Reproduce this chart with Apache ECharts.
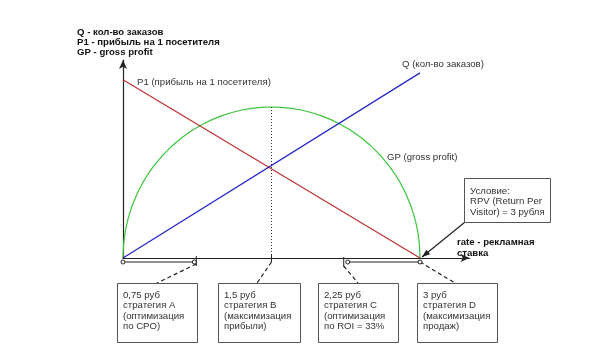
<!DOCTYPE html>
<html><head><meta charset="utf-8">
<script src="https://cdn.jsdelivr.net/npm/echarts@6/dist/echarts.min.js"></script>
<style>html,body{margin:0;padding:0;background:#fff}#c{width:600px;height:360px}</style>
</head><body><div id="c"></div>
<script>
// ---- data ----
const p1Rate = [0, 3];
const p1Values = [1.80, 0];
const qRate = [0, 3];
const qValues = [0, 1.87];
const gpRate = [0, 0.005, 0.01, 0.02, 0.035, 0.05, 0.075, 0.1, 0.15, 0.2, 0.25, 0.3, 0.4, 0.5, 0.6, 0.7, 0.8, 0.9, 1.0, 1.1, 1.2, 1.3, 1.4, 1.5,
  1.6, 1.7, 1.8, 1.9, 2.0, 2.1, 2.2, 2.3, 2.4, 2.5, 2.6, 2.7, 2.75, 2.8, 2.85, 2.9, 2.925, 2.95, 2.965, 2.98, 2.99, 2.995, 3];
const gpValues = [0, 0.124, 0.176, 0.248, 0.328, 0.39, 0.476, 0.548, 0.665, 0.761, 0.843, 0.915, 1.037, 1.137, 1.22, 1.29, 1.349, 1.398, 1.438, 1.47, 1.495, 1.512, 1.522, 1.525,
  1.522, 1.512, 1.495, 1.47, 1.438, 1.398, 1.349, 1.29, 1.22, 1.137, 1.037, 0.915, 0.843, 0.761, 0.665, 0.548, 0.476, 0.39, 0.328, 0.248, 0.176, 0.124, 0];
const optimumRate = [1.5, 1.5];
const optimumValues = [0, 1.525];
const intervalA = [0, 0.72];
const intervalC = [2.27, 3];
const strategyRates = [0.72, 1.5, 2.27, 3];
const strategyTexts = [
  '0,75 руб\nстратегия А\n(оптимизация\nпо CPO)',
  '1,5 руб\nстратегия В\n(максимизация\nприбыли)',
  '2,25 руб\nстратегия С\n(оптимизация\nпо ROI = 33%',
  '3 руб\nстратегия D\n(максимизация\nпродаж)'
];
const legendText = 'Q - кол-во заказов\nP1 - прибыль на 1 посетителя\nGP - gross profit';
const conditionText = 'Условие:\nRPV (Return Per\nVisitor) = 3 рубля';
const xAxisName = 'rate - рекламная\nставка';
const labelP1 = 'P1 (прибыль на 1 посетителя)';
const labelQ = 'Q (кол-во заказов)';
const labelGP = 'GP (gross profit)';

const FONT = '"Liberation Sans", Arial, sans-serif';
const zip = (a, b) => a.map((v, i) => [v, b[i]]);

const chart = echarts.init(document.getElementById('c'), null, {renderer: 'canvas'});
const option = {
  animation: false,
  backgroundColor: '#fff',
  grid: {left: 123, top: 60, width: 346.5, height: 198},
  xAxis: {type: 'value', min: 0, max: 3.5,
    axisLine: {show: true, lineStyle: {color: '#222', width: 1.2}, symbol: ['none', 'arrow'], symbolSize: [6, 9]},
    axisTick: {show: false}, axisLabel: {show: false}, splitLine: {show: false}},
  yAxis: {type: 'value', min: 0, max: 2,
    axisLine: {show: true, lineStyle: {color: '#222', width: 1.2}, symbol: ['none', 'arrow'], symbolSize: [6, 9]},
    axisTick: {show: false}, axisLabel: {show: false}, splitLine: {show: false}},
  series: [
    {type: 'line', data: zip(gpRate, gpValues), smooth: false, showSymbol: false, lineStyle: {color: '#3cc43c', width: 1.2}},
    {type: 'line', data: zip(p1Rate, p1Values), showSymbol: false, lineStyle: {color: '#c03030', width: 1.2}},
    {type: 'line', data: zip(qRate, qValues), showSymbol: false, lineStyle: {color: '#2525c8', width: 1.2}},
    {type: 'line', data: zip(optimumRate, optimumValues), showSymbol: false, lineStyle: {color: '#333', width: 1, type: [1, 2]}}
  ]
};
chart.setOption(option);

const px = (x, y) => chart.convertToPixel({gridIndex: 0}, [x, y]);
const y0 = px(0, 0)[1];
const segY = y0 + 4;
const g = [];
function line(x1, y1, x2, y2, style) {
  g.push({type: 'line', shape: {x1, y1, x2, y2}, style: Object.assign({stroke: '#222', lineWidth: 1}, style || {}), z: 10});
}
function circ(cx, cy) {
  g.push({type: 'circle', shape: {cx, cy, r: 2}, style: {fill: '#fff', stroke: '#222', lineWidth: 1}, z: 11});
}
function text(x, y, t, style) {
  g.push({type: 'text', x, y, style: Object.assign({text: t, fill: '#333', font: '9.6px ' + FONT, lineHeight: 10.5, verticalAlign: 'top'}, style || {}), z: 12});
}
// intervals below axis
[intervalA, intervalC].forEach(iv => {
  const a = px(iv[0], 0)[0], b = px(iv[1], 0)[0];
  line(a, segY, b, segY);
  circ(a, segY); circ(b, segY);
});
// ticks
line(px(strategyRates[0], 0)[0] + 2, y0 - 2, px(strategyRates[0], 0)[0] + 2, y0 + 8);
line(px(strategyRates[1], 0)[0], y0 - 4, px(strategyRates[1], 0)[0], y0 + 4);
line(px(strategyRates[2], 0)[0] - 4, y0 - 1, px(strategyRates[2], 0)[0] - 4, y0 + 9);
// boxes
const boxes = [[117, 80], [218, 82], [318, 80], [417, 80]];
const leaderEnds = [157, 257, 358, 455];
const leaderStart = [[2, 6], [0, 4], [-4, 8], [0, 4]];
boxes.forEach((b, i) => {
  g.push({type: 'rect', shape: {x: b[0] + 0.5, y: 283.5, width: b[1], height: 59}, style: {fill: '#fff', stroke: '#555', lineWidth: 1}, z: 9});
  text(b[0] + 6, 290, strategyTexts[i]);
  const sx = px(strategyRates[i], 0)[0] + leaderStart[i][0];
  line(sx, y0 + leaderStart[i][1], leaderEnds[i], 283, {lineDash: [4, 3], lineWidth: 1.2});
});
// condition box
g.push({type: 'rect', shape: {x: 464.5, y: 178.5, width: 86, height: 44}, style: {fill: '#fff', stroke: '#555', lineWidth: 1}, z: 9});
text(470, 186, conditionText);
// arrow from condition box to point (3,0)
const tip = px(3, 0);
const tx = tip[0] + 2, ty = tip[1] - 1;
const sx = 464.5, sy = 222.5;
line(sx, sy, tx, ty, {lineWidth: 1.2});
const ang = Math.atan2(ty - sy, tx - sx), L = 8, W = 3;
g.push({type: 'polygon', shape: {points: [[tx, ty],
  [tx - L * Math.cos(ang) + W * Math.sin(ang), ty - L * Math.sin(ang) - W * Math.cos(ang)],
  [tx - L * Math.cos(ang) - W * Math.sin(ang), ty - L * Math.sin(ang) + W * Math.cos(ang)]]},
  style: {fill: '#222'}, z: 12});
// texts
text(77, 27, legendText, {font: 'bold 9.6px ' + FONT, fill: '#111', lineHeight: 10});
text(457, 237, xAxisName, {font: 'bold 9.6px ' + FONT, fill: '#111', lineHeight: 11});
text(137, 77, labelP1);
text(402, 59, labelQ);
text(387, 152, labelGP);

chart.setOption({graphic: {elements: g}});
</script></body></html>
